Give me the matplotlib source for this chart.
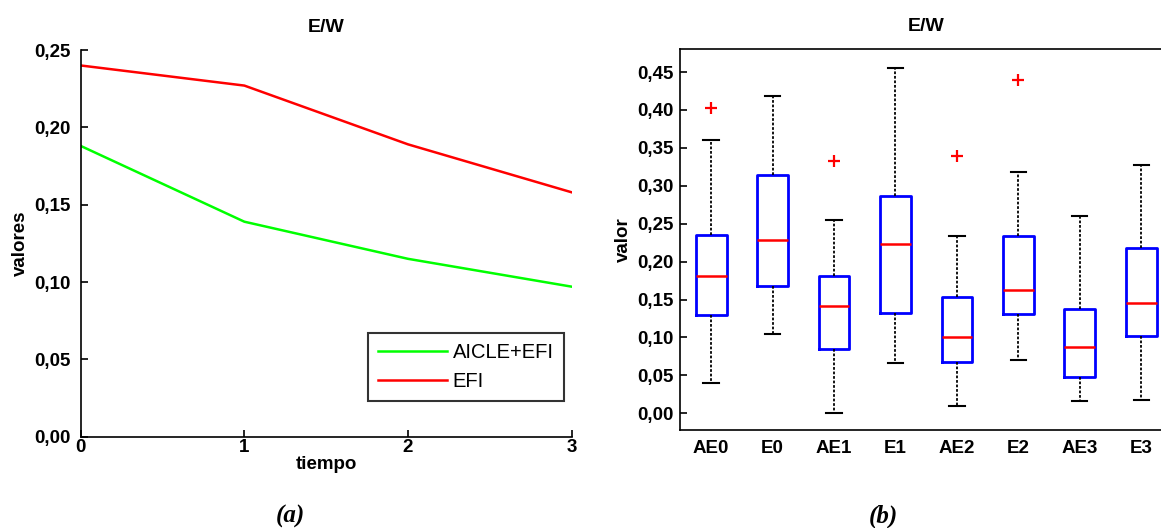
import numpy as np
import matplotlib
matplotlib.use('Agg')
import matplotlib.pyplot as plt
from matplotlib.ticker import FuncFormatter

plt.rcParams['font.family'] = ['Liberation Sans', 'DejaVu Sans']

# (a) line chart
tiempo = [0, 1, 2, 3]
aicle_efi = [0.188, 0.139, 0.115, 0.097]
efi = [0.240, 0.227, 0.189, 0.158]

# (b) box plot stats
box_labels = ['AE0', 'E0', 'AE1', 'E1', 'AE2', 'E2', 'AE3', 'E3']
whislo = [0.040, 0.104, 0.000, 0.067, 0.010, 0.070, 0.016, 0.018]
q1 = [0.129, 0.168, 0.085, 0.132, 0.068, 0.131, 0.048, 0.102]
med = [0.181, 0.228, 0.141, 0.223, 0.101, 0.163, 0.087, 0.146]
q3 = [0.235, 0.314, 0.181, 0.287, 0.154, 0.234, 0.137, 0.218]
whishi = [0.360, 0.418, 0.255, 0.455, 0.234, 0.318, 0.260, 0.327]
fliers = [[0.403], [], [0.333], [], [0.339], [0.440], [], []]

comma = FuncFormatter(lambda v, p: ('%.2f' % v).replace('.', ','))

fig = plt.figure(figsize=(11.61, 5.28), dpi=100)

# ---- left panel
ax1 = fig.add_axes([0.0695, 0.1729, 0.4229, 0.7324])
ax1.plot(tiempo, aicle_efi, color='#00ff00', lw=1.8, label='AICLE+EFI')
ax1.plot(tiempo, efi, color='#ff0000', lw=1.8, label='EFI')
ax1.set_xlim(0, 3)
ax1.set_ylim(0, 0.25)
ax1.set_xticks([0, 1, 2, 3])
ax1.set_yticks(np.arange(0, 0.26, 0.05))
ax1.yaxis.set_major_formatter(comma)
ax1.spines['top'].set_visible(False)
ax1.spines['right'].set_visible(False)
for s in ['left', 'bottom']:
    ax1.spines[s].set_linewidth(1.2)
ax1.tick_params(direction='in', length=5, width=1.2, labelsize=13.5)
ax1.tick_params(axis='x', pad=2)
ax1.tick_params(axis='y', pad=7)
for t in ax1.get_xticklabels() + ax1.get_yticklabels():
    t.set_fontweight('bold')
ax1.set_xlabel('tiempo', fontsize=13.5, fontweight='bold', labelpad=0)
ax1.set_ylabel('valores', fontsize=13.5, fontweight='bold', labelpad=4)
ax1.set_title('E/W', fontsize=14, fontweight='bold', pad=13)
leg = ax1.legend(loc='lower right', bbox_to_anchor=(0.984, 0.092), borderaxespad=0,
                 fontsize=14.5, fancybox=False, handlelength=3.4, handletextpad=0.3,
                 labelspacing=0.5, borderpad=0.5)
leg.get_frame().set_edgecolor('black')
leg.get_frame().set_linewidth(1.5)

# ---- right panel
ax2 = fig.add_axes([0.5861, 0.1856, 0.4233, 0.721])
stats = []
for i in range(len(box_labels)):
    stats.append(dict(label=box_labels[i], whislo=whislo[i], q1=q1[i], med=med[i],
                      q3=q3[i], whishi=whishi[i], fliers=fliers[i]))
ax2.bxp(stats, widths=0.5,
        boxprops=dict(color='#0000ff', lw=2),
        medianprops=dict(color='#ff0000', lw=1.8),
        whiskerprops=dict(color='black', lw=1.3, linestyle=(0, (1.5, 1))),
        capprops=dict(color='black', lw=1.5),
        flierprops=dict(marker='+', markeredgecolor='#ff0000', markersize=9, markeredgewidth=1.6))
ax2.set_xlim(0.5, 8.5)
ax2.set_ylim(-0.022, 0.480)
ax2.set_yticks(np.arange(0, 0.46, 0.05))
ax2.yaxis.set_major_formatter(comma)
ax2.spines['right'].set_visible(False)
for s in ['left', 'bottom', 'top']:
    ax2.spines[s].set_linewidth(1.2)
ax2.tick_params(axis='y', direction='in', length=5, width=1.2, labelsize=13.5, pad=5)
ax2.tick_params(axis='x', length=0, labelsize=13.5, pad=7)
for t in ax2.get_xticklabels() + ax2.get_yticklabels():
    t.set_fontweight('bold')
ax2.set_ylabel('valor', fontsize=13.5, fontweight='bold', labelpad=4)
ax2.set_title('E/W', fontsize=14, fontweight='bold', pad=13)

# captions
fig.text(0.2498, 0.022, '(a)', fontsize=18, fontstyle='italic', fontweight='bold',
         family='Liberation Serif', ha='center', va='center')
fig.text(0.7606, 0.022, '(b)', fontsize=18, fontstyle='italic', fontweight='bold',
         family='Liberation Serif', ha='center', va='center')

fig.savefig('out.png', dpi=100)
